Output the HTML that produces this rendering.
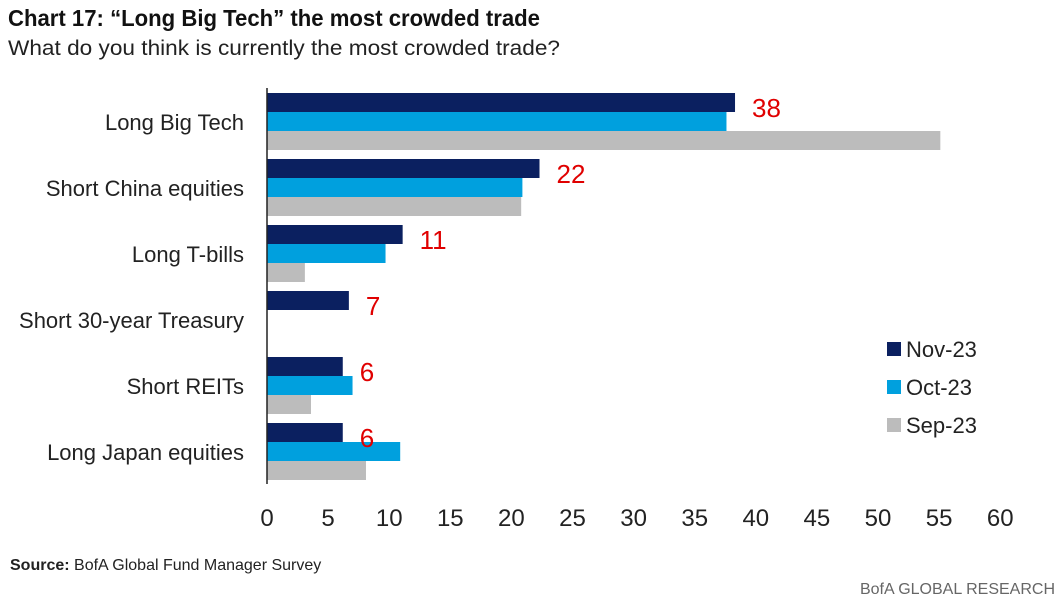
<!DOCTYPE html>
<html><head><meta charset="utf-8"><style>
body{margin:0;background:#fff;width:1060px;height:600px;overflow:hidden;font-family:"Liberation Sans Narrow","Liberation Sans",sans-serif;}
</style></head><body>
<svg id="chart" width="1060" height="600" xmlns="http://www.w3.org/2000/svg" font-family="Liberation Sans Narrow, Liberation Sans, sans-serif">
<text x="8" y="26" font-size="23" font-weight="bold" fill="#111" textLength="532" lengthAdjust="spacingAndGlyphs">Chart 17: “Long Big Tech” the most crowded trade</text>
<text x="8" y="55" font-size="21" fill="#222" textLength="552" lengthAdjust="spacingAndGlyphs">What do you think is currently the most crowded trade?</text>
<g id="plot"></g>
<g id="legend"></g>
<text x="10" y="570" font-size="16" fill="#222"><tspan font-weight="bold">Source:</tspan> BofA Global Fund Manager Survey</text>
<text x="1055" y="594" font-size="16" fill="#666" text-anchor="end">BofA GLOBAL RESEARCH</text>
</svg>
<script>
const categories=["Long Big Tech","Short China equities","Long T-bills","Short 30-year Treasury","Short REITs","Long Japan equities"];
const nov23=[38.3,22.3,11.1,6.7,6.2,6.2];
const oct23=[37.6,20.9,9.7,0,7.0,10.9];
const sep23=[55.1,20.8,3.1,0,3.6,8.1];
const novLabels=["38","22","11","7","6","6"];
const ticks=[0,5,10,15,20,25,30,35,40,45,50,55,60];
const seriesNames=["Nov-23","Oct-23","Sep-23"];
const NS="http://www.w3.org/2000/svg";
const x0=267,pxPer=12.22,top0=93,groupStep=66,barH=19;
const xs=v=>x0+v*pxPer;
const plot=document.getElementById('plot');
function mk(tag,attrs,parent){const e=document.createElementNS(NS,tag);for(const k in attrs)e.setAttribute(k,attrs[k]);parent.appendChild(e);return e;}
const colors=["#0b2060","#00a0de","#bcbcbc"];
const series=[nov23,oct23,sep23];
categories.forEach((c,i)=>{
  const gy=top0+i*groupStep;
  const t=mk('text',{x:244,y:gy+37,'font-size':22,'text-anchor':'end',fill:'#222'},plot);
  t.textContent=c;
  
  
  series.forEach((s,j)=>{
    if(s[i]<=0)return;
    const r=mk('rect',{x:x0,y:gy+j*barH,width:xs(s[i])-x0,height:barH,fill:colors[j]},plot);
    
    
  });
  const v=mk('text',{x:xs(nov23[i])+17,y:gy+24,'font-size':26,fill:'#e00000'},plot);
  v.textContent=novLabels[i];
  
  
});
const ax=mk('line',{x1:x0,y1:88,x2:x0,y2:484,stroke:'#222','stroke-width':1.5},plot);


ticks.forEach(t=>{
  const tx=mk('text',{x:xs(t),y:526,'font-size':24,'text-anchor':'middle',fill:'#222'},plot);
  tx.textContent=t;
  
  
});
const lg=document.getElementById('legend');
seriesNames.forEach((n,j)=>{
  const y=342+j*38;
  const r=mk('rect',{x:887,y:y,width:14,height:14,fill:colors[j]},lg);
  
  
  const t=mk('text',{x:906,y:y+15,'font-size':22,fill:'#222'},lg);
  t.textContent=n;
  
  
});
</script>
</body></html>
